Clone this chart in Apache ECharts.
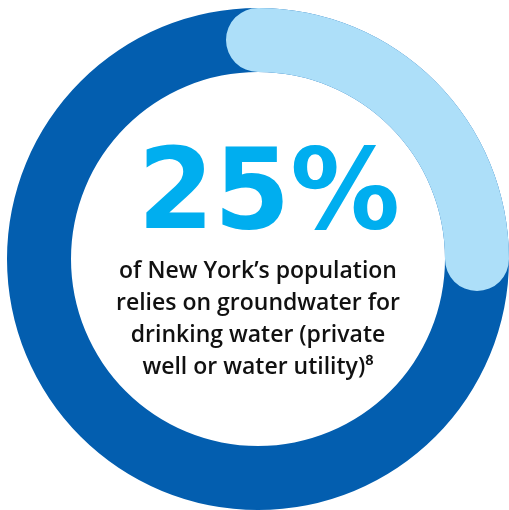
<!DOCTYPE html>
<html>
<head>
<meta charset="utf-8">
<script src="https://cdn.jsdelivr.net/npm/echarts@6/dist/echarts.min.js"></script>
<style>
html,body{margin:0;padding:0;background:#fff;}
#chart{width:509px;height:510px;}
</style>
</head>
<body>
<div id="chart"></div>
<script>
const categories = ['New York population'];
const totalValues = [100];
const groundwaterValues = [25];
const headline = ['25%'];
const captionLines = [
  'of New York\u2019s population',
  'relies on groundwater for',
  'drinking water (private',
  'well or water utility)\u2078'
];

const chart = echarts.init(document.getElementById('chart'));
const cx = 258, cy = 259;
const textGraphics = [{
  type: 'text',
  x: 269, y: 199,
  scaleX: 0.97,
  style: {
    text: headline[0],
    x: 0, y: 0,
    fill: '#00AEEF',
    font: 'bold 113px "DejaVu Sans"',
    textAlign: 'center',
    textVerticalAlign: 'middle'
  }
}];
captionLines.forEach(function (line, i) {
  textGraphics.push({
    type: 'text',
    x: cx, y: 271 + i * 32,
    style: {
      text: line,
      x: 0, y: 0,
      fill: '#111111',
      font: '600 23px "Open Sans"',
      textAlign: 'center',
      textVerticalAlign: 'middle'
    }
  });
});

chart.setOption({
  animation: false,
  polar: { center: [cx, cy], radius: [187, 251] },
  angleAxis: { type: 'value', min: 0, max: 100, startAngle: 90, clockwise: true, show: false },
  radiusAxis: { type: 'category', data: categories, show: false },
  series: [
    {
      type: 'pie', center: [cx, cy], radius: [187, 251],
      data: totalValues.map(function (v, i) { return { name: categories[i], value: v }; }),
      label: { show: false }, labelLine: { show: false },
      itemStyle: { color: '#035EAF' }, z: 1, silent: true
    },
    {
      type: 'bar', coordinateSystem: 'polar', data: groundwaterValues,
      barCategoryGap: '0%', roundCap: true,
      itemStyle: { color: '#ADDFF9' }, z: 3, silent: true
    }
  ],
  graphic: textGraphics
});
</script>
</body>
</html>
